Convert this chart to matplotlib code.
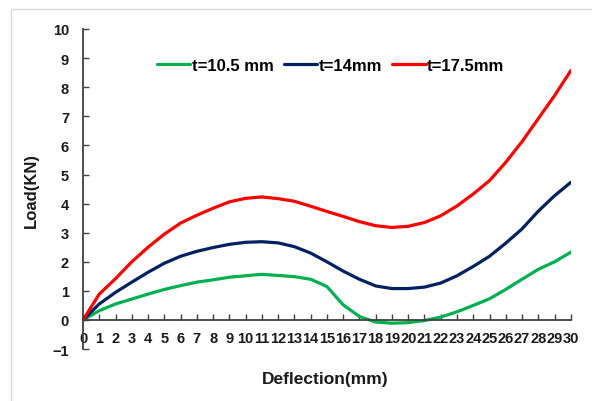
import matplotlib
matplotlib.use("Agg")
import matplotlib.pyplot as plt
from matplotlib import font_manager
from matplotlib.patches import Rectangle

deflection = list(range(0, 31))
load_105 = [0, 0.32, 0.55, 0.72, 0.89, 1.05, 1.18, 1.3, 1.38, 1.47, 1.52,
            1.57, 1.53, 1.49, 1.4, 1.15, 0.52, 0.12, -0.07, -0.11, -0.09,
            -0.02, 0.1, 0.28, 0.5, 0.73, 1.05, 1.4, 1.74, 2.0, 2.33]
load_14 = [0, 0.55, 0.95, 1.3, 1.64, 1.95, 2.19, 2.36, 2.49, 2.6, 2.67,
           2.69, 2.65, 2.52, 2.3, 2.0, 1.68, 1.4, 1.17, 1.08, 1.08,
           1.13, 1.27, 1.52, 1.84, 2.19, 2.64, 3.13, 3.74, 4.27, 4.73]
load_175 = [0, 0.89, 1.42, 2.0, 2.5, 2.95, 3.33, 3.6, 3.84, 4.06, 4.18,
            4.23, 4.17, 4.08, 3.91, 3.73, 3.56, 3.38, 3.24, 3.18, 3.22,
            3.35, 3.58, 3.92, 4.33, 4.79, 5.42, 6.13, 6.92, 7.71, 8.57]

series = [("t=10.5 mm", load_105, "#00B050"),
          ("t=14mm", load_14, "#002060"),
          ("t=17.5mm", load_175, "#FF0000")]

names = {f.name for f in font_manager.fontManager.ttflist}
main_font = "Liberation Sans"
narrow_font = "Liberation Sans Narrow" if "Liberation Sans Narrow" in names else main_font
plt.rcParams["font.family"] = main_font
plt.rcParams["font.weight"] = "bold"

fig = plt.figure(figsize=(5.92, 4.02), dpi=100)
fig.patches.append(Rectangle((11 / 592, -0.1), 1.2, (402 - 10) / 402 + 0.1,
                             transform=fig.transFigure, fill=False,
                             edgecolor="#d9d9d9", linewidth=1))
ax = fig.add_axes([83 / 592, (402 - 350.1) / 402, 487.8 / 592, 320.1 / 402])

for label, vals, color in series:
    ax.plot(deflection, vals, color=color, lw=2.3, label=label,
            solid_joinstyle="round", solid_capstyle="round")

ax.set_xlim(0, 30)
ax.set_ylim(-1, 10)
ax.set_xticks(range(0, 31))
ax.set_yticks(range(-1, 11))

ax.spines["top"].set_visible(False)
ax.spines["right"].set_visible(False)
ax.spines["bottom"].set_position(("data", 0))
for s in ("left", "bottom"):
    ax.spines[s].set_color("#404040")
    ax.spines[s].set_linewidth(1.3)

ax.tick_params(axis="both", direction="in", length=4, width=1, color="#404040",
               labelcolor="#1a1a1a")
ax.tick_params(axis="y", pad=10, labelsize=10.5)
ax.tick_params(axis="x", pad=8, labelsize=10.5)
for t in ax.get_xticklabels():
    t.set_fontfamily(narrow_font)
    t.set_fontweight("bold")
for t in ax.get_yticklabels():
    t.set_fontweight("bold")

ax.set_xlabel("Deflection(mm)", fontsize=12.5, fontweight="bold", color="#1a1a1a")
ax.xaxis.set_label_coords(0.496, -0.068)
ax.set_ylabel("Load(KN)", fontsize=12, fontweight="bold", color="#1a1a1a")
ax.yaxis.set_label_coords(-0.09, 0.5)

ax.legend(loc="center", bbox_to_anchor=(0.508, 0.8875), ncol=3, frameon=False,
          prop={"family": main_font, "weight": "bold", "size": 12},
          handlelength=2.0, handletextpad=0.1, columnspacing=0.6)

fig.savefig("out.png", dpi=100)
